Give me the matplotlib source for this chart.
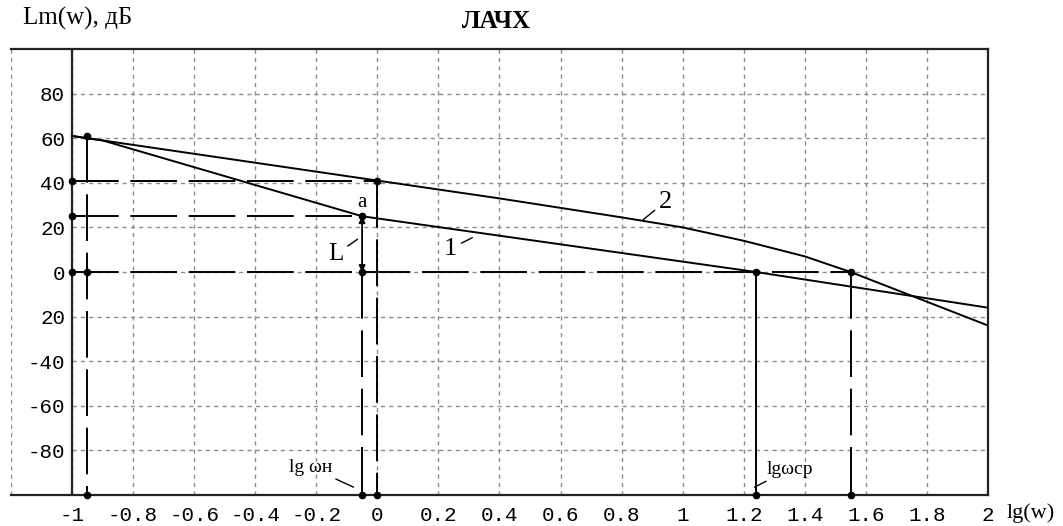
import matplotlib.pyplot as plt
import numpy as np

# ЛАЧХ: ломаные 1 и 2 (lg(w), Lm дБ)
lg_w1 = [-1.0, -0.9, -0.05, 1.24, 2.0]
lm1 = [61, 59, 25, 0, -16]
lg_w2 = [-1.0, 0.0, 0.4, 0.8, 1.0, 1.2, 1.4, 1.55, 2.0]
lm2 = [61, 41, 33, 24.5, 20, 14, 7, 0, -24]

# характерные точки
lg_w_start = -0.95
lg_w_n = -0.05      # lg ωн
lg_w_cp = 1.24      # lg ωср
lg_w_cp2 = 1.55
lm_start = 61
lm_a = 25
lm_b = 41

x_ticks = [-1.2, -1.0, -0.8, -0.6, -0.4, -0.2, 0.0, 0.2, 0.4, 0.6, 0.8,
           1.0, 1.2, 1.4, 1.6, 1.8, 2.0]
x_labels = ['', '-1', '-0.8', '-0.6', '-0.4', '-0.2', '0', '0.2', '0.4', '0.6',
            '0.8', '1', '1.2', '1.4', '1.6', '1.8', '2']
y_ticks = [-80, -60, -40, -20, 0, 20, 40, 60, 80]
y_labels = ['-80', '-60', '-40', '20', '0', '20', '40', '60', '80']

W, H = 1063, 526
fig = plt.figure(figsize=(W / 100, H / 100), dpi=100)
ax = fig.add_axes([11 / W, 31 / H, 977 / W, 446 / H])
ax.set_xlim(-1.2, 2)
ax.set_ylim(-100, 100)

ax.set_xticks(x_ticks, x_labels)
ax.set_yticks(y_ticks, y_labels)

# сетка: вертикали на всю высоту, горизонтали от оси Lm
grid_kw = dict(color='#8c8c8c', linestyle=(0, (3, 3)), linewidth=1.0, zorder=1)
ax.vlines(x_ticks, -100, 100, **grid_kw)
ax.hlines(y_ticks, -1, 2, **grid_kw)

mono = 'Liberation Mono'
ax.tick_params(axis='both', length=0, labelsize=15, labelfontfamily=mono)
ax.tick_params(axis='x', pad=8)
ax.tick_params(axis='y', pad=5)

for s in ['top', 'right', 'bottom', 'left']:
    ax.spines[s].set_color('#222222')
    ax.spines[s].set_linewidth(1.6)
ax.spines['left'].set_position(('data', -1))

# кривые
ax.plot(lg_w1, lm1, color='black', lw=1.4, zorder=4)
ax.plot(lg_w2, lm2, color='black', lw=1.4, zorder=4)

# вспомогательные линии
kw = dict(color='black', lw=1.4, ls=(0, (24, 6)), zorder=3)
ax.plot([-1, 0], [lm_b, lm_b], **kw)
ax.plot([-1, lg_w_n], [lm_a, lm_a], **kw)
ax.plot([-1, lg_w_cp2], [0, 0], **kw)
ax.plot([lg_w_start, lg_w_start], [lm_start, -100], **kw)
ax.plot([0, 0], [lm_b, -100], **kw)
ax.plot([lg_w_n, lg_w_n], [0, -100], **kw)
ax.plot([lg_w_cp2, lg_w_cp2], [0, -100], **kw)
ax.plot([lg_w_cp, lg_w_cp], [0, -100], color='black', lw=1.4, zorder=3)

# L'
ax.annotate('', xy=(lg_w_n, lm_a), xytext=(lg_w_n, 0),
            arrowprops=dict(arrowstyle='<|-|>', color='black', lw=1.3,
                            mutation_scale=9, shrinkA=0, shrinkB=0))

# точки
px = [lg_w_start, -1, -1, -1, lg_w_start, lg_w_start, 0, lg_w_n, lg_w_n,
      lg_w_n, 0, lg_w_cp, lg_w_cp, lg_w_cp2, lg_w_cp2]
py = [lm_start, lm_b, lm_a, 0, 0, -100, lm_b, lm_a, 0,
      -100, -100, 0, -100, 0, -100]
ax.plot(px, py, 'o', color='black', ms=4.5, zorder=5, clip_on=False)

# подписи
serif = 'Liberation Serif'
lead = dict(arrowstyle='-', color='black', lw=1.0, shrinkA=1, shrinkB=0)
ax.text(lg_w_n, 31, 'a', family=serif, fontsize=15, ha='center', va='center')
ax.annotate('L', xy=(-0.065, 14.7), xytext=(-0.135, 8), family=serif,
            fontsize=18, ha='center', va='center', arrowprops=lead)
ax.annotate('1', xy=(0.311, 15.4), xytext=(0.24, 10.5), family=serif,
            fontsize=19, ha='center', va='center', arrowprops=lead)
ax.annotate('2', xy=(0.871, 23.5), xytext=(0.943, 31.5), family=serif,
            fontsize=19, ha='center', va='center', arrowprops=lead)
ax.annotate('lg ωн', xy=(-0.078, -96.5), xytext=(-0.22, -87.5), family=serif,
            fontsize=14, ha='center', va='center', arrowprops=lead)
ax.annotate('lgωср', xy=(1.235, -96.5), xytext=(1.35, -88.5), family=serif,
            fontsize=14, ha='center', va='center', arrowprops=lead)

fig.text(23 / W, 1 - 18 / H, 'Lm(w), дБ', family=serif, fontsize=18,
         ha='left', va='center')
fig.text(496 / W, 1 - 21 / H, 'ЛАЧХ', family=serif, fontsize=18,
         fontweight='bold', ha='center', va='center')
fig.text(1007 / W, 1 - 513 / H, 'lg(w)', family=serif, fontsize=16,
         ha='left', va='center')

fig.savefig('out.png', dpi=100)
